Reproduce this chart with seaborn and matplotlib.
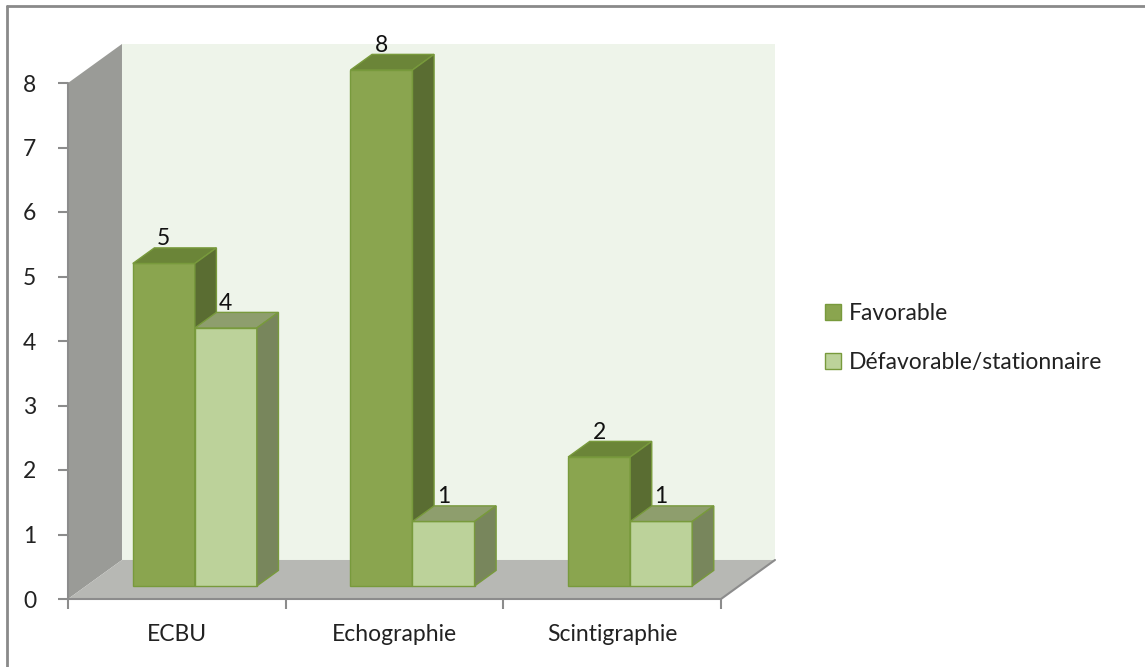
import numpy as np
import pandas as pd
import matplotlib
matplotlib.use("Agg")
import matplotlib.pyplot as plt
from matplotlib.patches import Polygon
from matplotlib.lines import Line2D
import seaborn as sns

# data
categories = ["ECBU", "Echographie", "Scintigraphie"]
series = ["Favorable", "Défavorable/stationnaire"]
favorable = [5, 8, 2]
defavorable = [4, 1, 1]
yticks = [0, 1, 2, 3, 4, 5, 6, 7, 8]

front_colors = {"Favorable": "#8aa54f", "Défavorable/stationnaire": "#bcd29a"}
top_colors = {"Favorable": "#6b8538", "Défavorable/stationnaire": "#8e9e6d"}
side_colors = {"Favorable": "#5a6d32", "Défavorable/stationnaire": "#78865c"}
edge_color = "#789a3c"

df = pd.DataFrame({
    "examen": categories * 2,
    "evolution": [series[0]] * 3 + [series[1]] * 3,
    "n": favorable + defavorable,
})

sns.set_theme(style="white")
plt.rcParams["font.family"] = ["Lato", "DejaVu Sans"]
FS = 16.5

fig = plt.figure(figsize=(11.45, 6.67), dpi=100)
ax = fig.add_axes([68 / 1145, 68 / 667, 653 / 1145, 516 / 667])
ax.set_facecolor("none")

ymax = 8
ax.set_xlim(-0.5, 2.5)
ax.set_ylim(0, ymax)

# depth of the 3D box, in data units
DX, DY = 0.248, 0.605
# bars sit a third of the way into the box, and are 0.4 of it deep
fx, fy = DX / 3, DY / 3
bx, by = DX * 0.4, DY * 0.4

# walls and floor
left_wall = Polygon([(-0.5, 0), (-0.5 + DX, DY), (-0.5 + DX, ymax + DY), (-0.5, ymax)],
                    closed=True, facecolor="#9a9b97", edgecolor="none", zorder=0.5, clip_on=False)
back_wall = Polygon([(-0.5 + DX, DY), (2.5 + DX, DY), (2.5 + DX, ymax + DY), (-0.5 + DX, ymax + DY)],
                    closed=True, facecolor="#eef4ea", edgecolor="none", zorder=0.4, clip_on=False)
floor = Polygon([(-0.5, 0), (2.5, 0), (2.5 + DX, DY), (-0.5 + DX, DY)],
                closed=True, facecolor="#b7b8b4", edgecolor="none", zorder=0.5, clip_on=False)
for p in (back_wall, left_wall, floor):
    ax.add_patch(p)
ax.plot([-0.5, 2.5, 2.5 + DX], [0, 0, DY], color="#8c8c8c", lw=1.5, zorder=0.6, clip_on=False)
ax.plot([-0.5, -0.5], [0, ymax], color="#8c8c8c", lw=1.5, zorder=0.6, clip_on=False)

sns.barplot(data=df, x="examen", y="n", hue="evolution", hue_order=series,
            palette=front_colors, width=0.57, ax=ax, legend=False,
            edgecolor=edge_color, linewidth=1, saturation=1)

n_cat = len(categories)
bars = [p for p in ax.patches if p not in (left_wall, back_wall, floor)]
for k, patch in enumerate(bars):
    s = series[k // n_cat]
    z = 3 + k // n_cat
    patch.set_x(patch.get_x() + fx)
    patch.set_y(patch.get_y() + fy)
    patch.set_zorder(z)
    patch.set_clip_on(False)
    x0 = patch.get_x()
    x1 = x0 + patch.get_width()
    y0 = patch.get_y()
    y1 = y0 + patch.get_height()
    top = Polygon([(x0, y1), (x1, y1), (x1 + bx, y1 + by), (x0 + bx, y1 + by)], closed=True,
                  facecolor=top_colors[s], edgecolor=edge_color, lw=1, zorder=z, clip_on=False)
    side = Polygon([(x1, y0), (x1 + bx, y0 + by), (x1 + bx, y1 + by), (x1, y1)], closed=True,
                   facecolor=side_colors[s], edgecolor=edge_color, lw=1, zorder=z, clip_on=False)
    ax.add_patch(top)
    ax.add_patch(side)
    ax.text(x0 + patch.get_width() / 2, y1 + by - 0.02, f"{int(round(patch.get_height()))}",
            ha="center", va="bottom", fontsize=FS, color="#111111", zorder=10)

# axes styling
for sp in ax.spines.values():
    sp.set_visible(False)
ax.set_xlabel("")
ax.set_ylabel("")
ax.set_yticks(yticks)
ax.set_yticklabels([str(v) for v in yticks], fontsize=FS, color="#222222")
ax.set_xticks([-0.5, 0.5, 1.5, 2.5])
ax.set_xticklabels([])
ax.set_xticks([0, 1, 2], minor=True)
ax.set_xticklabels(categories, minor=True, fontsize=FS, color="#222222")
ax.tick_params(axis="both", which="major", length=7, width=1.5, color="#8c8c8c", direction="out",
               left=True, bottom=True)
ax.tick_params(axis="y", pad=16)
ax.tick_params(axis="x", which="minor", length=0, pad=18)

# legend
handles = [plt.Rectangle((0, 0), 1, 1, facecolor=front_colors[s], edgecolor=edge_color) for s in series]
fig.legend(handles, series, loc="center left", bbox_to_anchor=(804 / 1145, 329 / 667),
           frameon=False, fontsize=FS, handlelength=0.7, handleheight=0.7, handletextpad=0.35,
           labelspacing=1.25, labelcolor="#222222")

# outer frame (left and top edges)
fig.add_artist(Line2D([7 / 1145, 7 / 1145], [0, 1 - 6 / 667], transform=fig.transFigure,
                      color="#8a8a8a", lw=2))
fig.add_artist(Line2D([7 / 1145, 1], [1 - 6 / 667, 1 - 6 / 667], transform=fig.transFigure,
                      color="#8a8a8a", lw=2))

fig.savefig("out.png", dpi=100)
